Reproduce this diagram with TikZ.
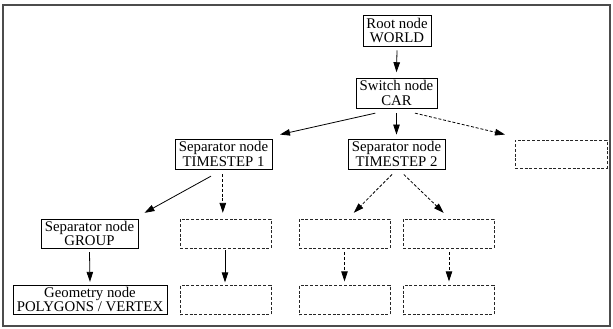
\documentclass[tikz,border=0pt]{standalone}
\usepackage{fontspec}
\setmainfont{Liberation Serif}
\usetikzlibrary{arrows.meta}
\begin{document}
\begin{tikzpicture}[x=1pt,y=-1pt,
  box/.style={draw=black, line width=0.9pt, inner sep=0pt, align=center,
    font=\fontsize{14.8}{14.5}\selectfont},
  dbox/.style={draw=black!85, line width=0.9pt, dash pattern=on 3pt off 1.8pt, inner sep=0pt},
  arr/.style={-{Triangle[length=10pt,width=6.5pt]}, line width=0.8pt},
  darr/.style={arr, dash pattern=on 3pt off 1.8pt}]
\useasboundingbox (0,0) rectangle (613,329);
\draw[black!70, line width=1.5pt] (3,5) rectangle (610,326);
% level 0/1
\node[box, minimum width=68pt, minimum height=31pt] (root) at (397,30.5) {Root node\\WORLD};
\node[box, minimum width=81pt, minimum height=30pt] (sw) at (396.5,93) {Switch node\\CAR};
% level 2
\node[box, minimum width=97pt, minimum height=30pt] (ts1) at (223.5,154) {Separator node\\TIMESTEP 1};
\node[box, minimum width=97pt, minimum height=30pt] (ts2) at (396.5,154) {Separator node\\TIMESTEP 2};
\node[dbox, minimum width=92pt, minimum height=28pt] (r) at (561,154) {};
% level 3
\node[box, minimum width=97pt, minimum height=29pt] (grp) at (89.5,233.5) {Separator node\\GROUP};
\node[dbox, minimum width=91pt, minimum height=29pt] (d1) at (225.5,233.5) {};
\node[dbox, minimum width=91pt, minimum height=29pt] (d2) at (344.5,233.5) {};
\node[dbox, minimum width=91pt, minimum height=29pt] (d3) at (448.5,233.5) {};
% level 4
\node[box, minimum width=154pt, minimum height=29pt] (geo) at (90,299.5) {Geometry node\\POLYGONS / VERTEX};
\node[dbox, minimum width=91pt, minimum height=29pt] (d4) at (225.5,300) {};
\node[dbox, minimum width=91pt, minimum height=29pt] (d5) at (344.5,300) {};
\node[dbox, minimum width=91pt, minimum height=29pt] (d6) at (448.5,300) {};
% connectors
\draw[arr] ([yshift=-4pt]root.south) -- ([yshift=5.3pt]sw.north);
\draw[arr] ([xshift=-21.2pt,yshift=-4.7pt]sw.south) -- ([xshift=56.5pt,yshift=4pt]ts1.north);
\draw[arr] ([yshift=-4.7pt]sw.south) -- ([yshift=4pt]ts2.north);
\draw[darr] ([xshift=18.5pt,yshift=-4.7pt]sw.south) -- ([xshift=-56pt,yshift=5pt]r.north);
\draw[arr] ([xshift=-12.5pt,yshift=-6.7pt]ts1.south) -- ([xshift=55pt,yshift=5.7pt]grp.north);
\draw[darr] ([xshift=-0.7pt,yshift=-5pt]ts1.south) -- ([xshift=-2.7pt,yshift=5.7pt]d1.north);
\draw[darr] ([xshift=-4.5pt,yshift=-5pt]ts2.south) -- ([xshift=9.3pt,yshift=5.7pt]d2.north);
\draw[darr] ([xshift=7.3pt,yshift=-5pt]ts2.south) -- ([xshift=-4.8pt,yshift=5.7pt]d3.north);
\draw[arr] ([yshift=-3.7pt]grp.south) -- ([yshift=2.7pt]geo.north);
\draw[arr] ([xshift=-0.5pt,yshift=-2pt]d1.south) -- ([xshift=-0.5pt,yshift=2.7pt]d4.north);
\draw[darr] ([yshift=-4pt]d2.south) -- ([yshift=3.7pt]d5.north);
\draw[darr] ([xshift=0.5pt,yshift=-4pt]d3.south) -- ([xshift=0.5pt,yshift=3.7pt]d6.north);
\end{tikzpicture}
\end{document}
